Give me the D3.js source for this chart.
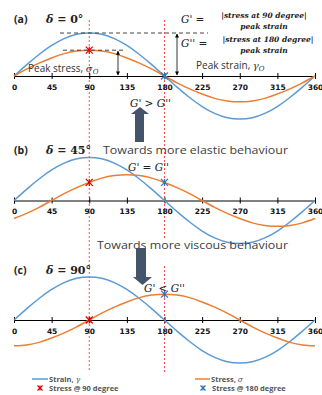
<!DOCTYPE html>
<html><head><meta charset="utf-8">
<script src="https://cdn.jsdelivr.net/npm/d3@7"></script>
<style>
html,body{margin:0;padding:0;background:#fff;overflow:hidden}
svg{display:block}
.sans{font-family:"Open Sans","Liberation Sans",sans-serif}
.math{font-family:"DejaVu Serif","Liberation Serif",serif;font-style:italic}
</style></head>
<body>
<script>
// ---- data ----
const angles = [0,15,30,45,60,75,90,105,120,135,150,165,180,195,210,225,240,255,270,285,300,315,330,345,360];
const tickLabels = [0,45,90,135,180,225,270,315,360];
const strain   = [0,.26,.5,.71,.87,.97,1,.97,.87,.71,.5,.26,0,-.26,-.5,-.71,-.87,-.97,-1,-.97,-.87,-.71,-.5,-.26,0];
const stressA  = [0,.16,.3,.42,.52,.58,.6,.58,.52,.42,.3,.16,0,-.16,-.3,-.42,-.52,-.58,-.6,-.58,-.52,-.42,-.3,-.16,0];
const stressB  = [-.42,-.3,-.16,0,.16,.3,.42,.52,.58,.6,.58,.52,.42,.3,.16,0,-.16,-.3,-.42,-.52,-.58,-.6,-.58,-.52,-.42];
const stressC  = [-.6,-.58,-.52,-.42,-.3,-.16,0,.16,.3,.42,.52,.58,.6,.58,.52,.42,.3,.16,0,-.16,-.3,-.42,-.52,-.58,-.6];
const markerAngles = [90,180];
const panelNames = ["(a)","(b)","(c)"];
const panelDeltas = ["0°","45°","90°"];
const relations = ["G' > G''","G' = G''","G' < G''"];
const legendLabels = ["Strain, ","Stress, ","Stress @ 90 degree","Stress @ 180 degree"];

const W=322,H=395;
const cBlue="#5b9bd5", cOrange="#ed7d31", cRed="#e00000", cBlueM="#2e75b6", cArrow="#44546a", cRedDash="#ff4d4d";

const svg=d3.select("body").append("svg").attr("width",W).attr("height",H);
const x=d3.scaleLinear().domain([0,360]).range([14,315]);

const panels=[
  {axisY:76, stress:stressA},
  {axisY:200.5, stress:stressB},
  {axisY:320, stress:stressC}
];

// red dashed verticals
svg.append("line").attr("x1",x(90)).attr("x2",x(90)).attr("y1",20).attr("y2",372)
  .attr("stroke",cRedDash).attr("stroke-width",1).attr("stroke-dasharray","2,2");
[[20,238],[266,372]].forEach(s=>{
  svg.append("line").attr("x1",x(180)).attr("x2",x(180)).attr("y1",s[0]).attr("y2",s[1])
    .attr("stroke",cRedDash).attr("stroke-width",1).attr("stroke-dasharray","2,2");
});

function star(g,cx,cy,color,r){
  const p=g.append("g").attr("transform",`translate(${cx},${cy})`).attr("stroke",color).attr("stroke-width",1.2);
  p.append("line").attr("x1",-r).attr("y1",-r).attr("x2",r).attr("y2",r);
  p.append("line").attr("x1",-r).attr("y1",r).attr("x2",r).attr("y2",-r);
  p.append("line").attr("x1",0).attr("y1",-r).attr("x2",0).attr("y2",r);
}

const ys=[];
panels.forEach((p,i)=>{
  const y=d3.scaleLinear().domain([-1,1]).range([p.axisY+43,p.axisY-43]);
  ys.push(y);
  const g=svg.append("g");
  const ax=g.append("g").attr("transform",`translate(0,${p.axisY})`)
    .call(d3.axisBottom(x).tickValues(tickLabels).tickSize(3).tickPadding(4).tickFormat(d3.format("d")));
  ax.select(".domain").attr("stroke","#000").attr("stroke-width",1);
  ax.selectAll(".tick line").attr("y1",-3).attr("y2",3).attr("stroke","#000");
  ax.selectAll(".tick text").attr("font-family","'DejaVu Sans',sans-serif").attr("font-weight","bold")
    .attr("font-size","7.5px").attr("fill","#111").attr("dy","0.9em");
  const line=d3.line().x((d,j)=>x(angles[j])).y(d=>y(d)).curve(d3.curveNatural);
  g.append("path").datum(strain).attr("d",line).attr("fill","none").attr("stroke",cBlue).attr("stroke-width",1.5);
  g.append("path").datum(p.stress).attr("d",line).attr("fill","none").attr("stroke",cOrange).attr("stroke-width",1.5);
  markerAngles.forEach((a,k)=>{
    const v=p.stress[angles.indexOf(a)];
    star(g,x(a),y(v),k===0?cRed:cBlueM,3.5);
  });
});

// panel titles
const titleY=[23,154,274];
panelNames.forEach((n,i)=>{
  svg.append("text").attr("class","sans").attr("x",14).attr("y",titleY[i]).attr("font-size","10.5px")
    .attr("font-weight","bold").attr("fill","#222").text(n);
  svg.append("text").attr("x",46).attr("y",titleY[i]).attr("font-family","'DejaVu Serif',serif")
    .attr("font-weight","bold").attr("font-size","11px").attr("fill","#222")
    .html(`<tspan font-style="italic">δ</tspan> = ${panelDeltas[i]}`);
});

// panel (a) annotations
const ya=ys[0];
svg.append("line").attr("x1",60).attr("x2",208).attr("y1",ya(1)).attr("y2",ya(1))
  .attr("stroke","#444").attr("stroke-dasharray","4,3").attr("stroke-width",1);
svg.append("line").attr("x1",63).attr("x2",123).attr("y1",ya(0.6)).attr("y2",ya(0.6))
  .attr("stroke","#444").attr("stroke-dasharray","4,3").attr("stroke-width",1);
svg.append("defs").append("marker").attr("id","ah").attr("viewBox","0 0 10 10").attr("refX",9).attr("refY",5)
  .attr("markerWidth",5).attr("markerHeight",5).attr("orient","auto-start-reverse")
  .append("path").attr("d","M0,0L10,5L0,10z").attr("fill","#000");
[[118,0.6],[177,1]].forEach(([px,v])=>{
  svg.append("line").attr("x1",px).attr("x2",px).attr("y1",ya(v)+1).attr("y2",ya(0)-1)
    .attr("stroke","#000").attr("stroke-width",0.8).attr("marker-start","url(#ah)").attr("marker-end","url(#ah)");
});
svg.append("text").attr("class","sans").attr("x",28).attr("y",72).attr("font-size","10px").attr("fill","#333")
  .html(`Peak stress, <tspan font-family="DejaVu Serif" font-style="italic">σ</tspan><tspan font-family="DejaVu Serif" font-style="italic" font-size="7px" dy="2">O</tspan>`);
svg.append("text").attr("class","sans").attr("x",196).attr("y",69).attr("font-size","10px").attr("fill","#333")
  .html(`Peak strain, <tspan font-family="DejaVu Serif" font-style="italic">γ</tspan><tspan font-family="DejaVu Serif" font-style="italic" font-size="7px" dy="2">O</tspan>`);

// formulas
function formula(yc,lhs,num,cx){
  svg.append("text").attr("class","math").attr("x",181).attr("y",yc+3.5).attr("font-size","10.5px").attr("fill","#222")
    .text(lhs);
  svg.append("text").attr("class","math").attr("x",cx).attr("y",yc-1.5).attr("text-anchor","middle")
    .attr("font-size","7.5px").attr("font-weight","bold").attr("fill","#222").text(num);
  svg.append("text").attr("class","math").attr("x",264).attr("y",yc+9.5).attr("text-anchor","middle")
    .attr("font-size","7.5px").attr("font-weight","bold").attr("fill","#222").text("peak strain");
}
formula(19,"G' =","|stress at 90 degree|",264);
formula(43,"G'' =","|stress at 180 degree|",268);

// relations
const relPos=[[130,107],[128,171],[144,292]];
relations.forEach((r,i)=>{
  svg.append("text").attr("class","math").attr("x",relPos[i][0]).attr("y",relPos[i][1]).attr("font-size","10.5px").attr("fill","#222")
    .text(r);
});

// behaviour texts
svg.append("text").attr("class","sans").attr("x",103).attr("y",154).attr("font-size","10.5px").attr("fill","#404040")
  .attr("textLength",185).attr("lengthAdjust","spacingAndGlyphs").text("Towards more elastic behaviour");
svg.append("text").attr("class","sans").attr("x",97).attr("y",249).attr("font-size","10.5px").attr("fill","#404040")
  .attr("textLength",191).attr("lengthAdjust","spacingAndGlyphs").text("Towards more viscous behaviour");

// arrows
svg.append("path").attr("fill",cArrow)
  .attr("d","M140,107 L149,114 L144,114 L144,142 L135,142 L135,114 L131,114 Z");
svg.append("path").attr("fill",cArrow)
  .attr("d","M136,248 L146,248 L146,277 L152,277 L142.5,285 L133,277 L136,277 Z");

// legend
const lg=svg.append("g").attr("class","sans").attr("font-size","7.5px").attr("font-weight","bold").attr("fill","#555");
lg.append("line").attr("x1",32).attr("x2",48).attr("y1",379).attr("y2",379).attr("stroke",cBlue).attr("stroke-width",1.5);
lg.append("text").attr("x",49).attr("y",381.5).html(`${legendLabels[0]}<tspan font-family="DejaVu Serif" font-style="italic" font-weight="normal">γ</tspan>`);
lg.append("line").attr("x1",195).attr("x2",210).attr("y1",379).attr("y2",379).attr("stroke",cOrange).attr("stroke-width",1.5);
lg.append("text").attr("x",211).attr("y",381.5).html(`${legendLabels[1]}<tspan font-family="DejaVu Serif" font-style="italic" font-weight="normal">σ</tspan>`);
star(lg,40,388,cRed,2.5);
lg.append("text").attr("x",49).attr("y",390.5).text(legendLabels[2]);
star(lg,203,388,cBlueM,2.5);
lg.append("text").attr("x",212).attr("y",390.5).text(legendLabels[3]);
</script>
</body></html>
